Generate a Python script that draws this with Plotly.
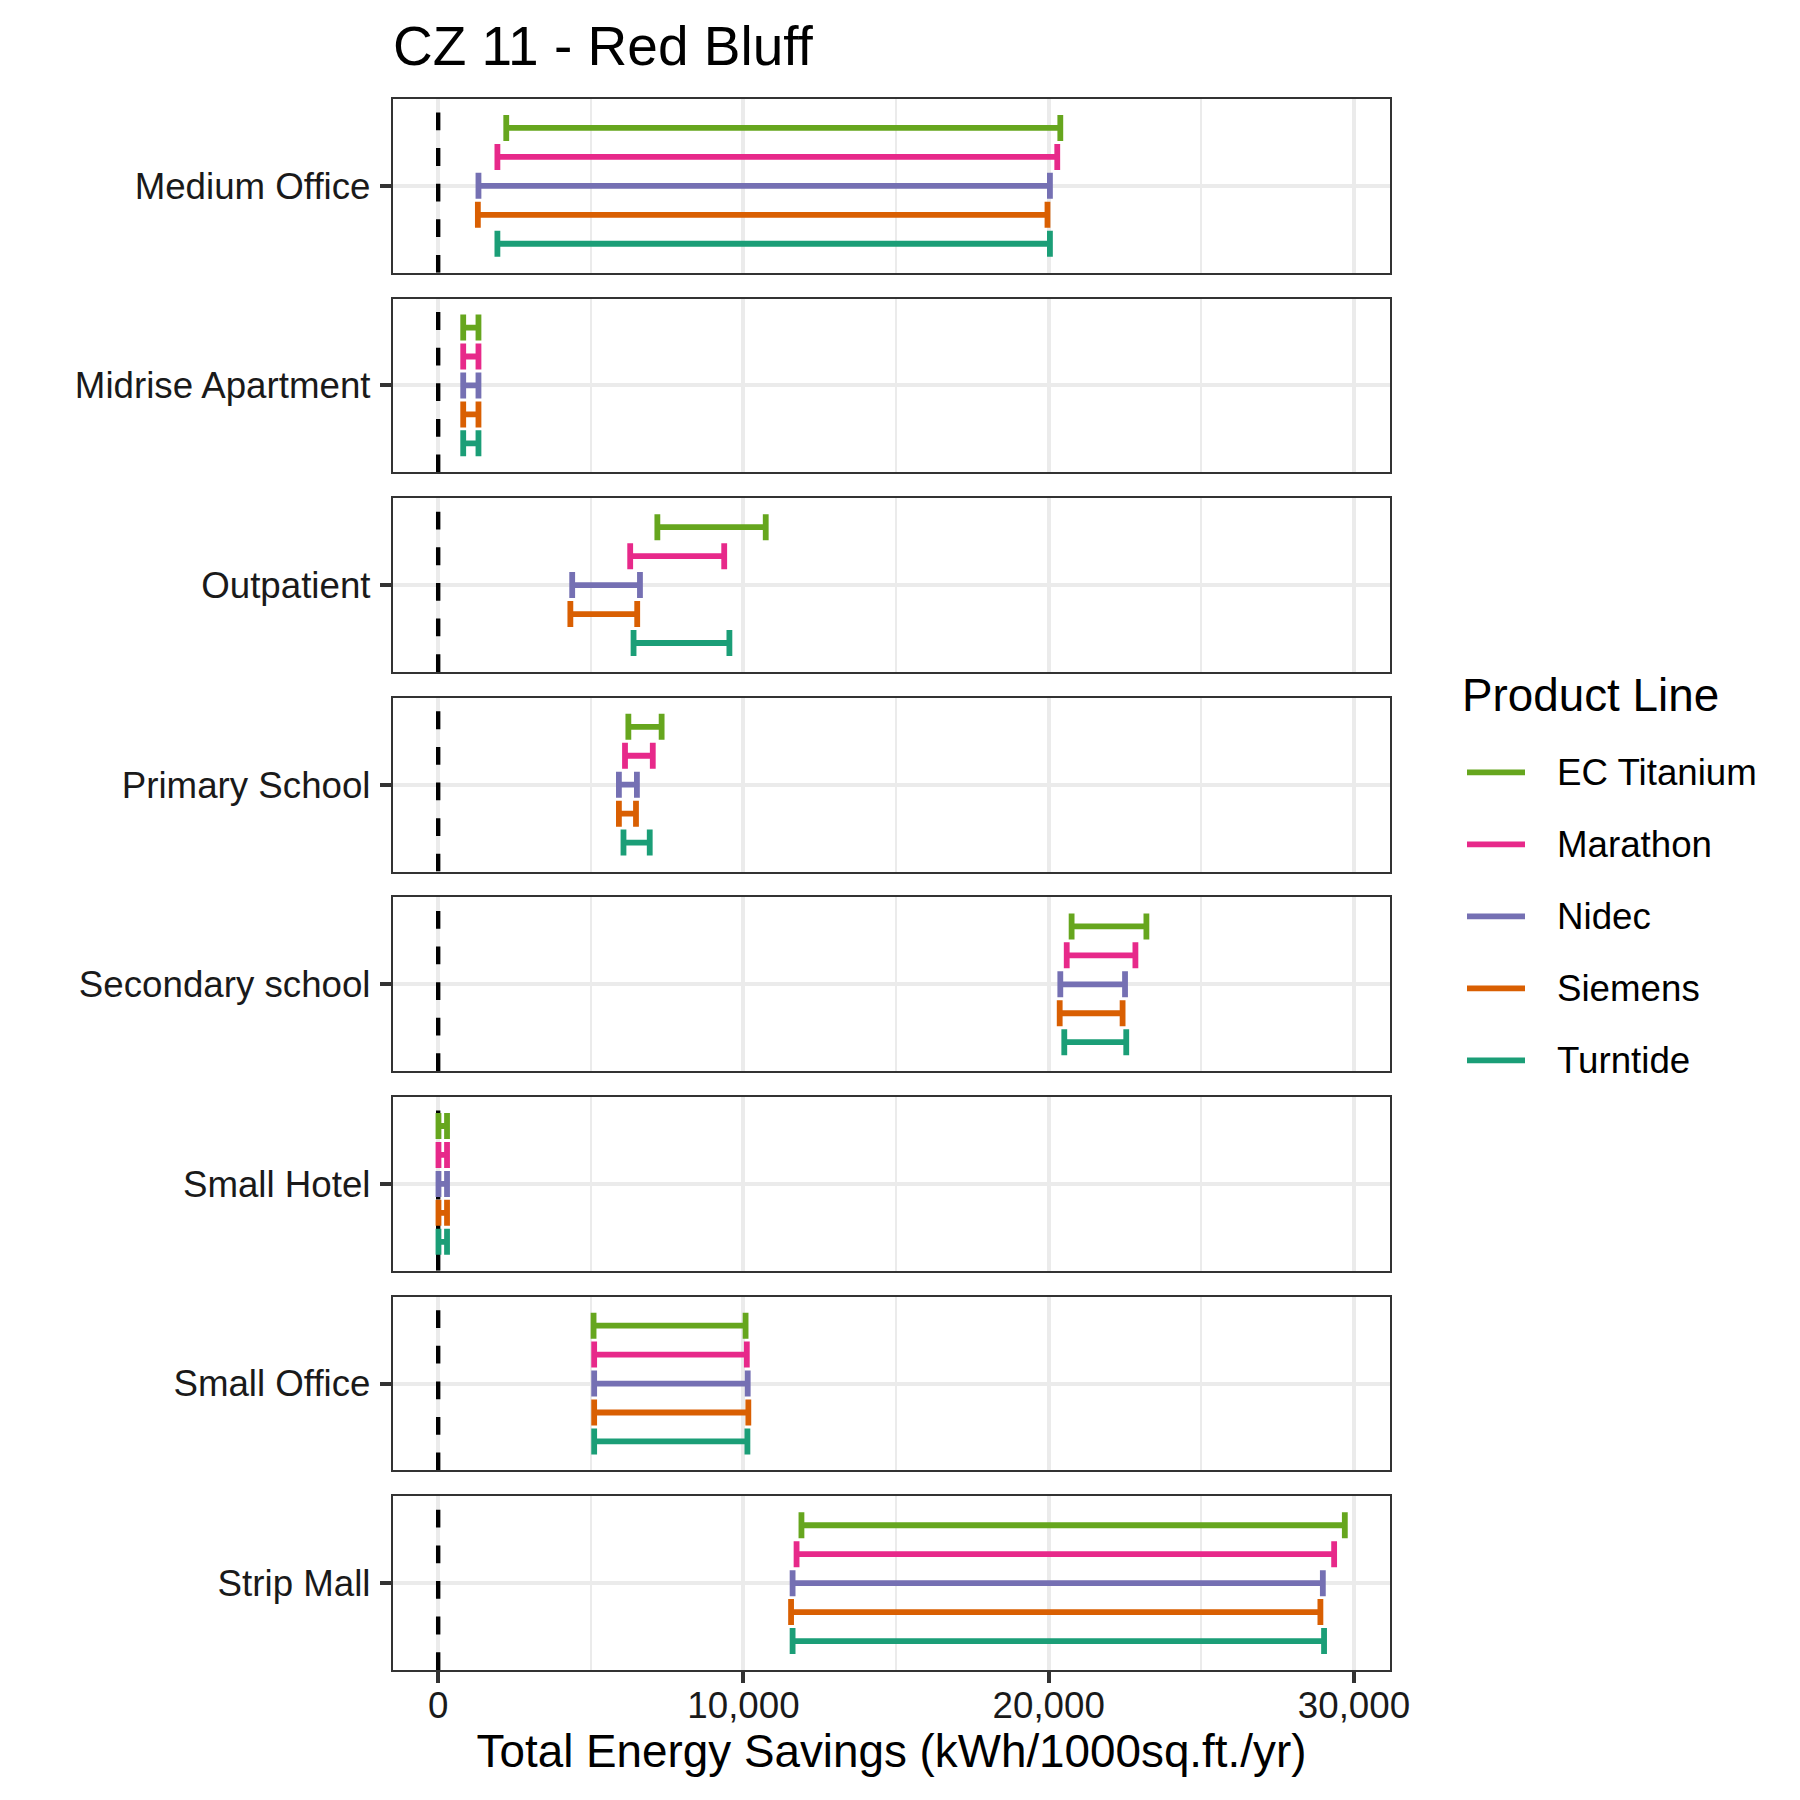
import plotly.graph_objects as go

# ---------------- data ----------------
buildings = ["Medium Office", "Midrise Apartment", "Outpatient", "Primary School",
             "Secondary school", "Small Hotel", "Small Office", "Strip Mall"]
products = ["EC Titanium", "Marathon", "Nidec", "Siemens", "Turntide"]
colors = ["#66A61E", "#E7298A", "#7570B3", "#D95F02", "#1B9E77"]

ec_titanium_low = [2230, 820, 7180, 6230, 20750, 10, 5090, 11900]
ec_titanium_high = [20380, 1320, 10730, 7320, 23200, 290, 10070, 29700]
marathon_low = [1940, 820, 6290, 6120, 20590, 10, 5110, 11740]
marathon_high = [20280, 1320, 9370, 7030, 22840, 290, 10110, 29350]
nidec_low = [1320, 820, 4390, 5920, 20380, 10, 5110, 11610]
nidec_high = [20040, 1320, 6610, 6510, 22500, 290, 10140, 28980]
siemens_low = [1300, 820, 4330, 5920, 20360, 10, 5110, 11560]
siemens_high = [19960, 1320, 6520, 6480, 22420, 290, 10160, 28900]
turntide_low = [1940, 820, 6400, 6070, 20510, 10, 5110, 11610]
turntide_high = [20040, 1320, 9540, 6930, 22540, 290, 10130, 29020]

reference_x = [0, 0]  # dashed zero line
x_ticks = [0, 10000, 20000, 30000]
x_tick_labels = ["0", "10,000", "20,000", "30,000"]
x_minor = [5000, 15000, 25000]

lows = [ec_titanium_low, marathon_low, nidec_low, siemens_low, turntide_low]
highs = [ec_titanium_high, marathon_high, nidec_high, siemens_high, turntide_high]

# ---------------- layout geometry (px) ----------------
W = H = 1800
L, R, T, B = 393, 1390, 98.7, 1669.6
PANEL_STEP, PANEL_H = 199.6, 173.7
FONT = "Liberation Sans, Arial, Helvetica, sans-serif"
XRANGE = [-1480, 31180]
YRANGE = [0.4, 1.6]


def px_to_paper_x(px):
    return (px - L) / (R - L)


def px_to_paper_y(py):
    return (B - py) / (B - T)


def clamp01(v):
    return min(1.0, max(0.0, round(v, 6)))


fig = go.Figure()
n = len(buildings)
offsets = [0.4, 0.2, 0.0, -0.2, -0.4]

layout_axes = {}
shapes = []
for i, bname in enumerate(buildings):
    k = "" if i == 0 else str(i + 1)
    top = T + i * PANEL_STEP
    bot = top + PANEL_H
    dom = [clamp01(px_to_paper_y(bot)), clamp01(px_to_paper_y(top))]
    last = i == n - 1
    xa = dict(
        domain=[0, 1], range=XRANGE, anchor="y" + k,
        tickmode="array", tickvals=x_ticks, ticktext=x_tick_labels,
        showticklabels=last, ticks="outside" if last else "",
        ticklen=11, tickwidth=4.4, tickcolor="#333333",
        tickfont=dict(size=36.7, color="#1a1a1a", family=FONT),
        ticklabelstandoff=-9,
        showgrid=True, gridcolor="#EBEBEB", gridwidth=4.4,
        minor=dict(tickmode="array", tickvals=x_minor, showgrid=True,
                   gridcolor="#EBEBEB", gridwidth=2.2, ticks=""),
        showline=True, mirror=True, linecolor="#333333", linewidth=2.3,
        zeroline=False, fixedrange=True,
    )
    if last:
        xa["title"] = dict(text="Total Energy Savings (kWh/1000sq.ft./yr)",
                           font=dict(size=45.8, color="black", family=FONT),
                           standoff=8)
    layout_axes["xaxis" + k] = xa
    layout_axes["yaxis" + k] = dict(
        domain=dom, range=YRANGE, anchor="x" + k,
        tickmode="array", tickvals=[1], ticktext=[bname],
        ticks="outside", ticklen=11, tickwidth=4.4, tickcolor="#333333",
        tickfont=dict(size=36.7, color="#1a1a1a", family=FONT),
        ticklabelstandoff=2,
        showgrid=True, gridcolor="#EBEBEB", gridwidth=4.4,
        showline=True, mirror=True, linecolor="#333333", linewidth=2.3,
        zeroline=False, fixedrange=True,
    )
    # dashed reference line at zero (drawn bottom-up, beneath the error bars)
    fig.add_trace(go.Scatter(
        x=reference_x, y=YRANGE, xaxis="x" + k, yaxis="y" + k,
        mode="lines", line=dict(color="black", width=4.4, dash="17.8px,17.8px"),
        showlegend=False, hoverinfo="skip", cliponaxis=True,
    ))
    for j, p in enumerate(products):
        lo = lows[j][i]
        hi = highs[j][i]
        fig.add_trace(go.Scatter(
            x=[(lo + hi) / 2], y=[1 + offsets[j]],
            xaxis="x" + k, yaxis="y" + k,
            mode="markers", marker=dict(size=1, opacity=0, color=colors[j]),
            error_x=dict(type="data", symmetric=True, array=[(hi - lo) / 2],
                         color=colors[j], thickness=5.8, width=13),
            name=p, showlegend=False, hoverinfo="skip",
        ))

# ---------------- manual legend ----------------
annotations = [dict(text="Product Line", xref="paper", yref="paper",
                    x=px_to_paper_x(1460), y=px_to_paper_y(695),
                    xanchor="left", yanchor="middle", showarrow=False,
                    font=dict(size=45.8, color="black", family=FONT))]
leg_y = [772, 844, 916, 988, 1060]
for j, p in enumerate(products):
    yp = px_to_paper_y(leg_y[j])
    shapes.append(dict(type="line", xref="paper", yref="paper",
                       x0=px_to_paper_x(1467), x1=px_to_paper_x(1525), y0=yp, y1=yp,
                       line=dict(color=colors[j], width=5.8)))
    annotations.append(dict(text=p, xref="paper", yref="paper",
                            x=px_to_paper_x(1555), y=yp, xanchor="left", yanchor="middle",
                            showarrow=False,
                            font=dict(size=36.7, color="black", family=FONT)))

fig.update_layout(
    width=W, height=H, autosize=False,
    margin=dict(l=L, r=W - R, t=T, b=H - B, pad=0),
    paper_bgcolor="white", plot_bgcolor="white",
    font=dict(family=FONT, color="black"),
    showlegend=False,
    title=dict(text="CZ 11 - Red Bluff", x=393 / W, xref="container", xanchor="left",
               y=1 - 46 / H, yref="container", yanchor="middle",
               font=dict(size=55, color="black", family=FONT)),
    shapes=shapes, annotations=annotations,
    **layout_axes,
)

fig.write_html("out.html", config={"displayModeBar": False},
               post_script="document.body.style.margin='0';")
